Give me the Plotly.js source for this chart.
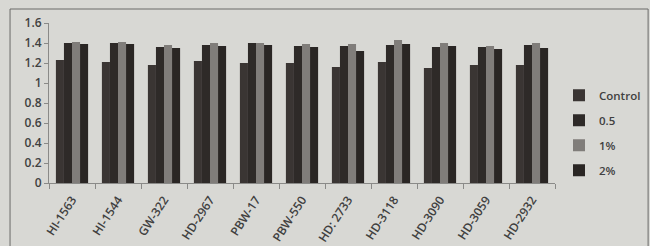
<!DOCTYPE html>
<html><head><meta charset="utf-8">
<script src="https://cdn.plot.ly/plotly-3.0.1.min.js"></script>
<style>html,body{margin:0;padding:0;background:#d8d8d4;}</style>
</head><body>
<div id="chart" style="width:650px;height:246px;"></div>
<script>
const categories = ["HI-1563","HI-1544","GW-322","HD-2967","PBW-17","PBW-550","HD: 2733","HD-3118","HD-3090","HD-3059","HD-2932"];
const control = [1.23,1.21,1.18,1.22,1.20,1.20,1.16,1.21,1.15,1.18,1.18];
const half    = [1.40,1.40,1.36,1.38,1.40,1.37,1.37,1.38,1.36,1.36,1.38];
const one     = [1.41,1.41,1.38,1.40,1.40,1.39,1.39,1.43,1.40,1.37,1.40];
const two     = [1.39,1.39,1.35,1.37,1.38,1.36,1.32,1.39,1.37,1.34,1.35];
const seriesNames = ["Control","0.5","1%","2%"];
const yTicks = [0,0.2,0.4,0.6,0.8,1,1.2,1.4,1.6];
const yTickText = ["0","0.2","0.4","0.6","0.8","1","1.2","1.4","1.6"];

const colors = ["#3a3533","#2e2a28","#807d7a","#2a2624"];
const vals = [control, half, one, two];
const traces = vals.map((v,i)=>({
  type:'bar', x:categories, y:v, name:seriesNames[i],
  marker:{color:colors[i], line:{width:0}},
  legendgroup:'g'+i, hoverinfo:'skip'
}));
const fam = "'Open Sans', 'Liberation Sans', sans-serif";
const tf = {family:fam, size:12, color:'#404040', weight:600};
const lf = {family:fam, size:11.5, color:'#404040', weight:600};
const layout = {
  width:650, height:246,
  margin:{l:49, r:95, t:23, b:63},
  paper_bgcolor:'#d8d8d4', plot_bgcolor:'#d8d8d4',
  font:tf,
  barmode:'group', bargap:0.3, bargroupgap:0,
  showlegend:true,
  legend:{xref:'container', yref:'container', x:0.86, y:0.672, xanchor:'left', yanchor:'top',
          tracegroupgap:6, font:lf, bgcolor:'rgba(0,0,0,0)', itemwidth:30},
  xaxis:{type:'category', tickangle:-57, ticklabelstandoff:4, showline:true, linecolor:'#8a8a88', linewidth:1,
         ticks:'outside', tickson:'boundaries', ticklen:5, tickcolor:'#8a8a88',
         showgrid:false, zeroline:false, tickfont:tf, automargin:false},
  yaxis:{range:[0,1.6], tickvals:yTicks, ticktext:yTickText, showline:true, linecolor:'#8a8a88',
         linewidth:1, ticks:'outside', ticklen:4, tickcolor:'#8a8a88', showgrid:false, zeroline:false,
         tickfont:tf, automargin:false},
  shapes:[{type:'rect', xref:'paper', yref:'paper', x0:-0.077, x1:1.184, y0:-0.45, y1:1.0875,
           line:{color:'#6a6a68', width:1}, fillcolor:'rgba(0,0,0,0)', layer:'below'}]
};
Plotly.newPlot('chart', traces, layout, {displayModeBar:false, staticPlot:true});
</script>
</body></html>
